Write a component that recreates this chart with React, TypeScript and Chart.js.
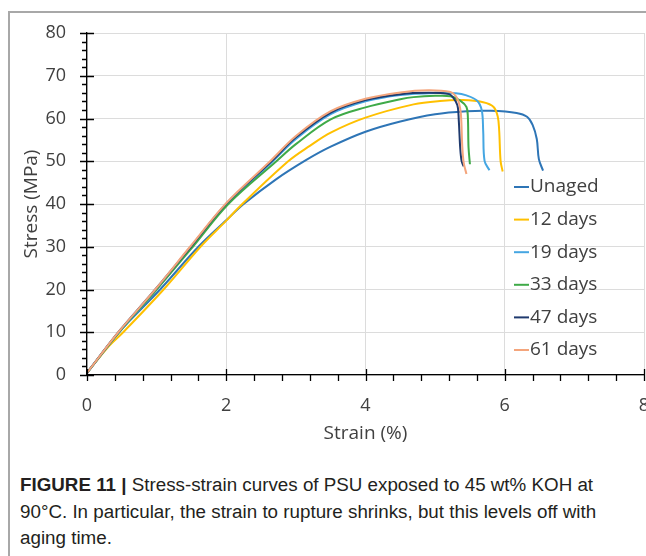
import React, { useEffect, useRef } from "react";
import { Chart, registerables } from "chart.js";

Chart.register(...registerables);

const seriesLabels = ["Unaged", "12 days", "19 days", "33 days", "47 days", "61 days"];
const seriesColors = ["#2E75B6", "#FFC000", "#45A6E2", "#3FAA48", "#1F3A6E", "#F4A57C"];

const strainUnaged = [0, 0.46, 1.05, 1.6, 2.0, 2.25, 2.7, 3.15, 3.5, 4.0, 4.5, 5.0, 5.45, 5.8, 6.17, 6.32, 6.40, 6.46, 6.49, 6.55];
const stressUnaged = [0.5, 10, 20, 30, 36.2, 40, 45.6, 50.3, 53.4, 56.9, 59.3, 61.0, 61.7, 61.8, 61.3, 60.4, 58.5, 55.2, 50.5, 47.8];

const strain12 = [0, 0.3, 0.52, 1.1, 1.63, 2.0, 2.23, 2.89, 3.2, 3.5, 4.0, 4.69, 5.07, 5.4, 5.69, 5.84, 5.90, 5.92, 5.94, 5.97];
const stress12 = [0.5, 6.5, 10, 20, 30, 36.1, 40, 50, 53.6, 56.7, 60.2, 63.3, 64.1, 64.3, 63.8, 62.7, 60.4, 57.2, 50.1, 47.6];

const strain19 = [0, 0.46, 1.0, 1.5, 2.02, 2.67, 3.0, 3.5, 4.0, 4.5, 5.0, 5.3, 5.45, 5.6, 5.67, 5.69, 5.71, 5.78];
const stress19 = [0.5, 10, 20, 30, 40, 50, 55.2, 61.0, 64.0, 65.5, 66.0, 65.9, 65.4, 64.2, 61.9, 57.2, 50.1, 47.9];

const strain33 = [0, 0.46, 1.0, 1.52, 2.03, 2.72, 3.0, 3.5, 4.0, 4.5, 4.69, 5.0, 5.22, 5.36, 5.45, 5.47, 5.48, 5.50];
const stress33 = [0.5, 10, 20, 30, 40, 50, 54.0, 59.8, 62.6, 64.5, 65.0, 65.3, 65.2, 64.2, 62.7, 60.4, 53.2, 49.3];

const strain47 = [0, 0.45, 0.98, 1.49, 2.0, 2.65, 3.0, 3.5, 4.0, 4.5, 4.9, 5.2, 5.26, 5.32, 5.34, 5.36, 5.38, 5.41];
const stress47 = [0.5, 10, 20, 30, 40.1, 50, 55.6, 61.4, 64.3, 65.7, 66.0, 65.7, 64.9, 63.1, 59.5, 53.2, 50.1, 48.8];

const strain61 = [0, 0.45, 0.98, 1.48, 2.0, 2.63, 3.0, 3.5, 4.0, 4.5, 4.9, 5.22, 5.3, 5.34, 5.37, 5.39, 5.41, 5.45];
const stress61 = [0.5, 10, 20, 30, 40.2, 50, 55.9, 61.7, 64.6, 66.1, 66.6, 66.2, 65.2, 63.8, 61.1, 53.5, 49.7, 47.0];

const xTickValues = [0, 2, 4, 6, 8];
const yTickValues = [0, 10, 20, 30, 40, 50, 60, 70, 80];

const allStrain = [strainUnaged, strain12, strain19, strain33, strain47, strain61];
const allStress = [stressUnaged, stress12, stress19, stress33, stress47, stress61];

const FONT = "'Open Sans', 'DejaVu Sans', sans-serif";
const TEXT = "#404040";

const tickPlugin = {
  id: "axisTicks",
  afterDraw(chart: any) {
    const { ctx, scales } = chart;
    const xs = scales.x;
    const ys = scales.y;
    const x0 = xs.getPixelForValue(0);
    const y0 = ys.getPixelForValue(0);
    ctx.save();
    ctx.strokeStyle = "#000";
    ctx.lineWidth = 1.3;
    ctx.beginPath();
    for (let v = 0; v <= 80; v += 2) {
      const y = Math.round(ys.getPixelForValue(v)) + 0.5;
      if (v % 10 === 0) {
        ctx.moveTo(x0 - 7, y);
        ctx.lineTo(x0 + 7, y);
      } else {
        ctx.moveTo(x0 - 5, y);
        ctx.lineTo(x0, y);
      }
    }
    for (let i = 0; i <= 20; i++) {
      const v = i * 0.4;
      const x = Math.round(xs.getPixelForValue(v)) + 0.5;
      if (i % 5 === 0) {
        ctx.moveTo(x, y0 - 6);
        ctx.lineTo(x, y0 + 6);
      } else {
        ctx.moveTo(x, y0);
        ctx.lineTo(x, y0 + 6);
      }
    }
    ctx.stroke();

    const area = chart.chartArea;
    const lx = area.left + 427;
    const ly0 = area.top + 154;
    const gap = 32.6;
    ctx.font = `19px ${FONT}`;
    ctx.textBaseline = "middle";
    ctx.textAlign = "left";
    chart.data.datasets.forEach((ds: any, i: number) => {
      const y = ly0 + i * gap;
      ctx.strokeStyle = ds.borderColor;
      ctx.lineWidth = 2;
      ctx.beginPath();
      ctx.moveTo(lx, y);
      ctx.lineTo(lx + 15, y);
      ctx.stroke();
      ctx.fillStyle = TEXT;
      ctx.fillText(ds.label, lx + 16, y);
    });
    ctx.restore();
  },
};

export default function App() {
  const ref = useRef<HTMLCanvasElement | null>(null);

  useEffect(() => {
    if (!ref.current) return;
    const datasets = seriesLabels.map((label, i) => ({
      label,
      data: allStrain[i].map((x, j) => ({ x, y: allStress[i][j] })),
      borderColor: seriesColors[i],
      backgroundColor: seriesColors[i],
      borderWidth: 2,
      pointRadius: 0,
      fill: false,
      tension: 0.35,
      order: 6 - i,
    }));
    const chart = new Chart(ref.current, {
      type: "line",
      data: { datasets },
      options: {
        animation: false,
        responsive: false,
        layout: { padding: { left: 0, right: 36, top: 20, bottom: 0 } },
        plugins: { legend: { display: false }, tooltip: { enabled: false } },
        scales: {
          x: {
            type: "linear",
            min: 0,
            max: 8,
            afterBuildTicks: (s: any) => {
              s.ticks = xTickValues.map((v) => ({ value: v }));
            },
            afterFit: (s: any) => {
              s.height = 70;
              s.paddingLeft = 0;
              s.paddingRight = 0;
            },
            ticks: { color: TEXT, font: { family: FONT, size: 18 }, padding: 20 },
            grid: { color: "#DCDCDC", lineWidth: 1, drawTicks: false },
            border: { display: true, color: "#000", width: 1.3 },
            title: {
              display: true,
              text: "Strain (%)",
              color: TEXT,
              font: { family: FONT, size: 19 },
              padding: 0,
            },
          },
          y: {
            type: "linear",
            min: 0,
            max: 80,
            afterBuildTicks: (s: any) => {
              s.ticks = yTickValues.map((v) => ({ value: v }));
            },
            afterFit: (s: any) => {
              s.width = 77;
              s.paddingTop = 0;
              s.paddingBottom = 0;
            },
            ticks: { color: TEXT, font: { family: FONT, size: 18 }, padding: 21 },
            grid: { color: "#DCDCDC", lineWidth: 1, drawTicks: false },
            border: { display: true, color: "#000", width: 1.3 },
            title: {
              display: true,
              text: "Stress (MPa)",
              color: TEXT,
              font: { family: FONT, size: 19 },
              padding: { top: 10, bottom: 0 },
            },
          },
        },
      },
      plugins: [tickPlugin],
    });
    return () => chart.destroy();
  }, []);

  return (
    <div>
      <div
        style={{
          position: "absolute",
          left: 8,
          top: 11,
          width: 638,
          height: 545,
          boxSizing: "border-box",
          borderTop: "2px solid #A8A8A8",
          borderLeft: "2px solid #A8A8A8",
          overflow: "hidden",
        }}
      >
        <div style={{ position: "absolute", left: 0, top: 0, width: 636, height: 440, overflow: "hidden" }}>
          <canvas ref={ref} width={670} height={432} style={{ display: "block" }} />
        </div>
        <div
          style={{
            position: "absolute",
            left: 10,
            top: 459,
            whiteSpace: "nowrap",
            fontFamily: "'Liberation Sans', Arial, sans-serif",
            fontSize: 18.8,
            lineHeight: "26.5px",
            color: "#231F20",
          }}
        >
          <b>FIGURE 11 |</b> Stress-strain curves of PSU exposed to 45 wt% KOH at
          <br />
          90°C. In particular, the strain to rupture shrinks, but this levels off with
          <br />
          aging time.
        </div>
      </div>
    </div>
  );
}
